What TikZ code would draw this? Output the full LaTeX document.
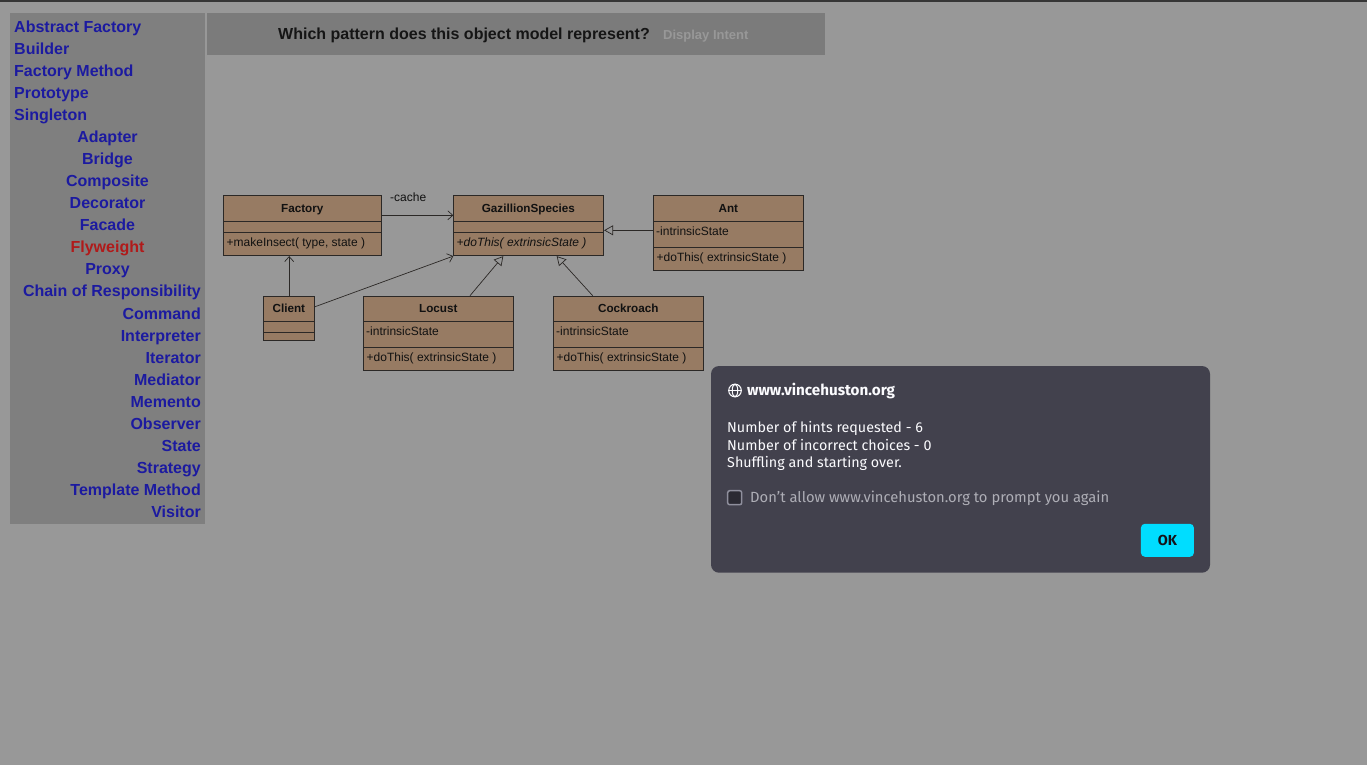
\documentclass[tikz,border=0pt]{standalone}
\usepackage{fontspec}
\setmainfont{Liberation Sans}
\newfontfamily\dlgfont{Fira Sans}
\usepackage{xcolor}
\usepackage{tikz}
\usetikzlibrary{calc,arrows.meta}
\definecolor{pagebg}{HTML}{989898}
\definecolor{topbar}{HTML}{363636}
\definecolor{panelbg}{HTML}{7F7F7F}
\definecolor{headbg}{HTML}{7B7B7B}
\definecolor{menublue}{HTML}{1C1AA0}
\definecolor{flyred}{HTML}{B01A1A}
\definecolor{headtext}{HTML}{151515}
\definecolor{intent}{HTML}{989898}
\definecolor{umlbrown}{HTML}{977B63}
\definecolor{umlline}{HTML}{2B2826}
\definecolor{umltext}{HTML}{111111}
\definecolor{dlgbg}{HTML}{42414D}
\definecolor{dlgtext}{HTML}{FBFBFE}
\definecolor{dlgmuted}{HTML}{AEAEB6}
\definecolor{boxfill}{HTML}{2B2A33}
\definecolor{boxline}{HTML}{8F8F9D}
\definecolor{okcyan}{HTML}{00DDFF}
\definecolor{oktext}{HTML}{15141A}
\tikzset{
  menuL/.style={text=menublue, font=\bfseries\fontsize{16}{18}\selectfont, inner sep=0pt, anchor=base west},
  menuC/.style={text=menublue, font=\bfseries\fontsize{16}{18}\selectfont, inner sep=0pt, anchor=base},
  menuR/.style={text=menublue, font=\bfseries\fontsize{16}{18}\selectfont, inner sep=0pt, anchor=base east},
  cls/.style={draw=umlline, fill=umlbrown, line width=0.8pt, inner sep=0pt, anchor=north west},
  div/.style={draw=umlline, line width=0.8pt},
  ttl/.style={text=umltext, font=\bfseries\fontsize{11.7}{13}\selectfont, inner sep=0pt, anchor=base},
  mem/.style={text=umltext, font=\fontsize{12}{14}\selectfont, inner sep=0pt, anchor=base west},
  assoc/.style={draw=umlline, line width=0.7pt, -{Straight Barb[length=5pt, width=9pt]}},
  inherit/.style={draw=umlline, line width=0.7pt, -{Triangle[open, length=9pt, width=10pt]}},
  dlg/.style={text=dlgtext, font=\dlgfont\fontsize{14.3}{17}\selectfont, inner sep=0pt, anchor=base west},
}

\begin{document}
\begin{tikzpicture}[x=1pt,y=-1pt]
  \useasboundingbox (0,0) rectangle (1367,765);
  \fill[pagebg] (0,0) rectangle (1367,765);
  \fill[topbar] (0,0) rectangle (1367,2.5);

  % pattern menu
  \fill[panelbg] (10,13) rectangle (205,524);
  \node[menuL] (absfac) at (14,32.3) {Abstract Factory};
  \node[menuL] (builder) at (14,54.3) {Builder};
  \node[menuL] (facmeth) at (14,76.3) {Factory Method};
  \node[menuL] (proto) at (14,98.3) {Prototype};
  \node[menuL] (single) at (14,120.3) {Singleton};
  \node[menuC] (adapter) at (107.5,142.3) {Adapter};
  \node[menuC] (bridge) at (107.5,164.3) {Bridge};
  \node[menuC] (compos) at (107.5,186.3) {Composite};
  \node[menuC] (decor) at (107.5,208.3) {Decorator};
  \node[menuC] (facade) at (107.5,230.3) {Facade};
  \node[menuC, text=flyred] (flywt) at (107.5,252.3) {Flyweight};
  \node[menuC] (proxy) at (107.5,274.3) {Proxy};
  \node[menuR] (chain) at (201,296.3) {Chain of Responsibility};
  \node[menuR] (command) at (201,319) {Command};
  \node[menuR] (interp) at (201,341) {Interpreter};
  \node[menuR] (iter) at (201,363) {Iterator};
  \node[menuR] (mediat) at (201,385) {Mediator};
  \node[menuR] (memento) at (201,407) {Memento};
  \node[menuR] (observ) at (201,429) {Observer};
  \node[menuR] (state) at (201,451) {State};
  \node[menuR] (strat) at (201,473) {Strategy};
  \node[menuR] (templ) at (201,495) {Template Method};
  \node[menuR] (visitor) at (201,517.3) {Visitor};

  % question bar
  \fill[headbg] (207,13) rectangle (825,55);
  \node[text=headtext, font=\bfseries\fontsize{16}{18}\selectfont, inner sep=0pt, anchor=base] (question) at (464,39.3) {Which pattern does this object model represent?};
  \node[text=intent, font=\bfseries\fontsize{13}{15}\selectfont, inner sep=0pt, anchor=base west] (intent) at (663,39.3) {Display Intent};

  % object model
  \node[cls, minimum width=158, minimum height=60] (factory) at (223.3,195.3) {};
  \node[cls, minimum width=150, minimum height=60] (gaz) at (453.3,195.3) {};
  \node[cls, minimum width=150, minimum height=75] (ant) at (653.3,195.3) {};
  \node[cls, minimum width=51, minimum height=44.3] (client) at (263.3,295.7) {};
  \node[cls, minimum width=150, minimum height=74.3] (locust) at (363.3,295.7) {};
  \node[cls, minimum width=150, minimum height=74.3] (cockroach) at (553.3,295.7) {};

  \draw[div] (223.3,221.7) -- (381.3,221.7);
  \draw[div] (223.3,232.3) -- (381.3,232.3);
  \draw[div] (453.3,221.7) -- (603.3,221.7);
  \draw[div] (453.3,232.3) -- (603.3,232.3);
  \draw[div] (653.3,221.7) -- (803.3,221.7);
  \draw[div] (653.3,247.3) -- (803.3,247.3);
  \draw[div] (263.3,321.7) -- (314.3,321.7);
  \draw[div] (263.3,332.3) -- (314.3,332.3);
  \draw[div] (363.3,321.7) -- (513.3,321.7);
  \draw[div] (363.3,347.3) -- (513.3,347.3);
  \draw[div] (553.3,321.7) -- (703.3,321.7);
  \draw[div] (553.3,347.3) -- (703.3,347.3);

  \node[ttl] (factoryname) at (302.3,212) {Factory};
  \node[mem] (makeinsect) at (226.5,246.5) {+makeInsect( type, state )};
  \node[ttl] (gazname) at (528.3,212) {GazillionSpecies};
  \node[mem, font=\itshape\fontsize{12}{14}\selectfont] (gazop) at (456.5,246.5) {+doThis( extrinsicState )};
  \node[ttl] (antname) at (728.3,212) {Ant};
  \node[mem] (antattr) at (656,235.3) {-intrinsicState};
  \node[mem] (antop) at (656.5,261) {+doThis( extrinsicState )};
  \node[ttl] (clientname) at (288.8,312) {Client};
  \node[ttl] (locustname) at (438.3,312) {Locust};
  \node[mem] (locustattr) at (366,335.3) {-intrinsicState};
  \node[mem] (locustop) at (366.5,361.3) {+doThis( extrinsicState )};
  \node[ttl] (cockname) at (628.3,312) {Cockroach};
  \node[mem] (cockattr) at (556,335.3) {-intrinsicState};
  \node[mem] (cockop) at (556.5,361.3) {+doThis( extrinsicState )};

  \draw[assoc] ($(factory.north east)+(0,20)$) -- ($(gaz.north west)+(0,20)$);
  \node[mem] (cache) at (390,201.5) {-cache};
  \draw[assoc] (client.north) -- (client.north |- factory.south);
  \draw[assoc] ($(client.north east)+(0,11)$) -- (gaz.south west);
  \draw[inherit] ($(locust.north west)+(106.7,0)$) -- ($(gaz.south west)+(50,0)$);
  \draw[inherit] ($(cockroach.north west)+(39.4,0)$) -- ($(gaz.south west)+(103.4,0)$);
  \draw[inherit] ($(ant.north west)+(0,35)$) -- ($(gaz.north east)+(0,35)$);

  % prompt dialog
  \fill[dlgbg, rounded corners=8] (711,366) rectangle (1210,572.7);
  \draw[dlgtext, line width=1.1pt] (735,390.5) circle (6.3);
  \draw[dlgtext, line width=1pt] (735,390.5) ellipse (2.8 and 6.3);
  \draw[dlgtext, line width=1pt] (728.7,390.5) -- (741.3,390.5);
  \node[dlg, font=\dlgfont\bfseries\fontsize{15.2}{17}\selectfont] (site) at (747,395.7) {www.vincehuston.org};
  \node[dlg] (hints) at (727,432) {Number of hints requested - 6};
  \node[dlg] (wrong) at (727,450) {Number of incorrect choices - 0};
  \node[dlg] (shuffle) at (727,467.7) {Shuffling and starting over.};
  \node[draw=boxline, fill=boxfill, line width=1.5pt, rounded corners=2, minimum size=14, inner sep=0pt] (check) at (734.7,497.7) {};
  \node[dlg, text=dlgmuted, font=\dlgfont\fontsize{14.75}{17}\selectfont] (dontallow) at (750,502.7) {Don’t allow www.vincehuston.org to prompt you again};
  \node[fill=okcyan, rounded corners=4, minimum width=53, minimum height=33, inner sep=0pt] (ok) at (1167.4,540.3) {};
  \node[text=oktext, font=\dlgfont\bfseries\fontsize{14.5}{17}\selectfont, inner sep=0pt, anchor=base] (oklabel) at (ok.center |- 0,545) {OK};
\end{tikzpicture}
\end{document}
